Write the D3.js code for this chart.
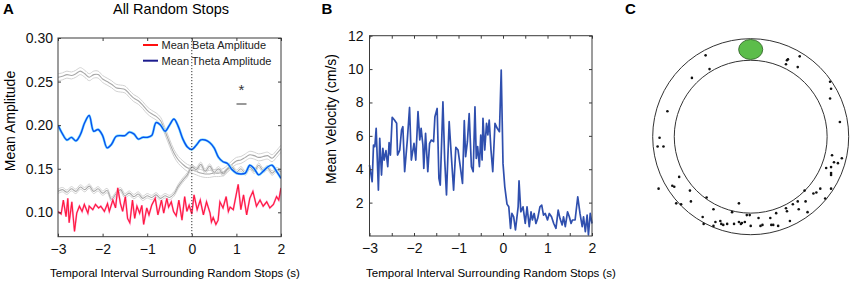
<!DOCTYPE html>
<html>
<head>
<meta charset="utf-8">
<script src="https://cdn.jsdelivr.net/npm/d3@7"></script>
<style>
  body { margin: 0; background: #fff; }
  svg { display: block; font-family: "Liberation Sans", Arial, Helvetica, sans-serif; }
</style>
</head>
<body>
<svg id="chart" width="851" height="282"></svg>
<script>
// ---- panel A: amplitude around random stops ----
const gridTime = [-3.0,-2.9,-2.8,-2.7,-2.6,-2.5,-2.4,-2.3,-2.2,-2.1,-2.0,-1.9,-1.8,-1.7,-1.6,-1.5,-1.4,-1.3,-1.2,-1.1,
  -1.0,-0.9,-0.8,-0.7,-0.6,-0.5,-0.4,-0.3,-0.2,-0.1,0.0,0.1,0.2,0.3,0.4,0.5,0.6,0.7,0.8,0.9,
  1.0,1.1,1.2,1.3,1.4,1.5,1.6,1.7,1.8,1.9,2.0];

const thetaAmp = [0.200,0.190,0.183,0.186,0.182,0.189,0.203,0.211,0.193,0.195,0.188,0.174,0.178,0.187,0.188,0.188,0.192,0.190,0.184,0.186,
  0.186,0.188,0.203,0.200,0.193,0.200,0.207,0.198,0.184,0.175,0.172,0.177,0.183,0.183,0.180,0.174,0.163,0.158,0.156,0.149,
  0.145,0.144,0.145,0.154,0.150,0.143,0.147,0.152,0.154,0.147,0.139];

// shuffled-control curves (grey)
const grayHigh = [0.255,0.256,0.258,0.257,0.259,0.262,0.259,0.255,0.258,0.258,0.253,0.250,0.247,0.243,0.242,0.241,0.236,0.231,0.228,0.223,
  0.217,0.213,0.210,0.205,0.193,0.180,0.168,0.160,0.155,0.151,0.149,0.147,0.145,0.144,0.144,0.145,0.145,0.146,0.150,0.155,
  0.159,0.160,0.163,0.166,0.165,0.163,0.164,0.165,0.162,0.167,0.173];
const grayLow = [0.124,0.126,0.123,0.127,0.124,0.129,0.126,0.130,0.124,0.127,0.122,0.125,0.115,0.121,0.126,0.119,0.122,0.118,0.121,0.116,
  0.119,0.117,0.120,0.116,0.119,0.117,0.121,0.130,0.137,0.143,0.152,0.149,0.155,0.147,0.153,0.146,0.150,0.144,0.149,0.152,
  0.146,0.150,0.145,0.152,0.147,0.154,0.148,0.151,0.145,0.149,0.146];
const grayHighSem = 0.004, grayLowSem = 0.0025;

const betaTime = [-3.00,-2.93,-2.88,-2.82,-2.78,-2.75,-2.69,-2.63,-2.58,-2.52,-2.46,-2.41,-2.33,-2.30,-2.22,-2.16,-2.09,-2.04,-1.96,-1.89,
  -1.85,-1.77,-1.71,-1.66,-1.60,-1.55,-1.49,-1.44,-1.39,-1.33,-1.28,-1.23,-1.17,-1.12,-1.08,-1.01,-0.96,-0.90,-0.82,-0.76,
  -0.68,-0.63,-0.56,-0.52,-0.46,-0.41,-0.35,-0.29,-0.22,-0.16,-0.11,-0.06,0.00,0.05,0.12,0.19,0.26,0.33,0.41,0.44,
  0.48,0.54,0.59,0.63,0.70,0.77,0.82,0.86,0.93,1.04,1.10,1.16,1.23,1.30,1.37,1.45,1.53,1.60,1.68,1.75,
  1.83,1.90,1.95,2.00];
const betaAmp = [0.101,0.098,0.114,0.095,0.116,0.088,0.112,0.078,0.099,0.107,0.101,0.109,0.099,0.107,0.103,0.109,0.105,0.107,0.101,0.110,
  0.101,0.114,0.105,0.128,0.110,0.101,0.118,0.093,0.088,0.114,0.093,0.107,0.099,0.108,0.086,0.105,0.097,0.108,0.116,0.097,
  0.114,0.099,0.116,0.106,0.112,0.101,0.096,0.114,0.091,0.118,0.101,0.108,0.098,0.120,0.103,0.114,0.097,0.112,0.099,0.089,
  0.094,0.086,0.091,0.112,0.105,0.118,0.101,0.106,0.103,0.132,0.103,0.120,0.097,0.116,0.124,0.107,0.114,0.107,0.112,0.105,
  0.109,0.118,0.114,0.128];

const ampTicks = [0.10, 0.15, 0.20, 0.25, 0.30];
const timeTicks = [-3, -2, -1, 0, 1, 2];
const legendLabels = ['Mean Beta Amplitude', 'Mean Theta Amplitude'];

// ---- panel B: running speed ----
const velTime = [-3.00,-2.94,-2.91,-2.88,-2.85,-2.80,-2.77,-2.73,-2.70,-2.67,-2.63,-2.59,-2.56,-2.53,-2.49,-2.44,-2.39,-2.37,-2.32,-2.28,
  -2.25,-2.21,-2.15,-2.10,-2.06,-2.00,-1.96,-1.91,-1.87,-1.84,-1.80,-1.78,-1.74,-1.69,-1.65,-1.61,-1.56,-1.53,-1.48,-1.44,
  -1.41,-1.35,-1.31,-1.27,-1.21,-1.16,-1.11,-1.06,-1.01,-0.96,-0.91,-0.87,-0.84,-0.80,-0.76,-0.71,-0.67,-0.63,-0.60,-0.57,
  -0.53,-0.50,-0.47,-0.45,-0.41,-0.37,-0.34,-0.31,-0.27,-0.23,-0.18,-0.13,-0.08,-0.04,0.00,0.04,0.09,0.13,0.17,0.20,
  0.24,0.28,0.34,0.36,0.40,0.45,0.50,0.54,0.59,0.63,0.66,0.70,0.74,0.78,0.83,0.87,0.91,0.95,1.00,1.04,
  1.09,1.14,1.19,1.24,1.28,1.33,1.36,1.40,1.45,1.49,1.53,1.56,1.62,1.68,1.73,1.78,1.81,1.85,1.89,1.92,
  1.96,2.00];
const velocity = [4.25,3.25,5.45,5.35,6.45,2.75,5.85,3.65,5.25,4.55,5.11,4.15,5.59,4.85,7.11,6.95,6.75,4.85,5.15,6.35,
  6.55,3.85,5.75,7.70,4.55,5.55,4.55,7.45,5.75,6.45,5.45,4.05,6.15,3.85,5.55,5.75,5.65,7.15,7.64,3.45,
  3.05,8.04,4.55,2.46,6.85,4.75,2.75,5.31,5.15,4.15,3.15,6.91,4.75,5.65,7.34,4.15,3.85,7.74,4.65,5.35,
  4.15,6.05,4.55,7.05,5.15,6.75,6.05,6.95,5.15,3.85,6.75,6.45,6.25,9.94,4.35,2.95,1.91,1.75,0.46,1.35,
  1.15,0.36,1.75,3.30,1.45,1.75,0.75,1.75,0.56,1.45,0.96,1.35,0.75,1.06,1.75,1.85,1.25,1.35,0.96,1.35,
  1.15,0.75,0.46,1.55,1.06,0.66,1.15,0.56,1.45,1.15,0.75,0.96,0.96,2.35,1.35,0.56,1.15,0.26,1.25,0.06,
  1.35,0.75];
const velTicks = [2, 4, 6, 8, 10, 12];
const velTimeTicks = [-3, -2.5, -2, -1.5, -1, -0.5, 0, 0.5, 1, 1.5, 2];

// ---- panel C: stop positions on the circular track (track units, outer radius = 100) ----
const trackOuter = 100, trackInner = 78;
const rewardSite = { x: 0, y: -89, rx: 12.3, ry: 10.2 };
const stopX = [-46,-42,-60,-85,-93,-95,-89,-94,-80,-78,-73,-76,-71,-62,-61,-45,-49,-48,-38,-38,-36,-31,-30,-28,-24,-19,-17,-12,-12,-10,
  -9,-6,-4,-1,0,8,10,12,20,21,23,26,28,36,37,40,43,49,48,55,56,58,64,67,71,76,77,82,82,82,
  83,82,85,89,93,91,81,82,81,50,48,37,38,36];
const stopY = [-83,-69,-60,-26,1,10,10,53,50,51,41,68,69,55,66,62,82,89,74,91,87,86,89,90,89,77,89,68,87,89,
  88,87,80,80,91,83,91,90,83,90,90,78,91,73,76,86,69,74,66,55,66,77,58,57,53,63,32,31,37,39,
  19,53,26,27,22,-15,-39,-49,-56,-82,-71,-78,-79,-74];

const svg = d3.select('#chart');
const frameColor = '#3a3a3a';

function panelLetter(x, label) {
  svg.append('text')
    .attr('x', x).attr('y', 14)
    .attr('font-size', 15).attr('font-weight', 'bold')
    .text(label);
}

// draws a MATLAB style box with inward ticks
function drawFrame(g, x, y, xTicks, yTicks, xFmt, yFmt, yPad) {
  const [x0, x1] = x.range(), [y0, y1] = y.range();
  const style = sel => {
    sel.select('.domain').remove();
    sel.selectAll('line').attr('stroke', frameColor);
    sel.selectAll('text').attr('font-size', 14).attr('fill', '#111').attr('font-family', null);
  };
  g.append('g').attr('transform', `translate(0,${y0})`)
    .call(d3.axisBottom(x).tickValues(xTicks).tickSize(-3).tickPadding(7).tickFormat(xFmt)).call(style);
  g.append('g').attr('transform', `translate(0,${y1})`)
    .call(d3.axisTop(x).tickValues(xTicks).tickSize(-3).tickFormat('')).call(style);
  g.append('g').attr('transform', `translate(${x0},0)`)
    .call(d3.axisLeft(y).tickValues(yTicks).tickSize(-3).tickPadding(yPad).tickFormat(yFmt)).call(style);
  g.append('g').attr('transform', `translate(${x1},0)`)
    .call(d3.axisRight(y).tickValues(yTicks).tickSize(-3).tickFormat('')).call(style);
  g.append('rect')
    .attr('x', x0).attr('y', y1)
    .attr('width', x1 - x0).attr('height', y0 - y1)
    .attr('fill', 'none').attr('stroke', frameColor).attr('stroke-width', 1);
}

// ================= A =================
panelLetter(3, 'A');
svg.append('text')
  .attr('x', 171).attr('y', 14)
  .attr('text-anchor', 'middle').attr('font-size', 14.5)
  .text('All Random Stops');

const xA = d3.scaleLinear([-3, 2], [58, 281]);
const yA = d3.scaleLinear([0.072, 0.30], [236.7, 38]);
const gA = svg.append('g');

gA.append('clipPath').attr('id', 'clipA')
  .append('rect').attr('x', 58).attr('y', 38).attr('width', 223).attr('height', 198.7);
const plotA = gA.append('g').attr('clip-path', 'url(#clipA)');

// grey control curves: mean and +/- sem
const grayCurves = [
  { values: grayHigh, sem: grayHighSem },
  { values: grayLow, sem: grayLowSem }
];
grayCurves.forEach(c => {
  [-1, 1].forEach(s => {
    plotA.append('path')
      .datum(c.values.map((v, i) => [gridTime[i], v + s * c.sem]))
      .attr('fill', 'none').attr('stroke', '#d2d2d2').attr('stroke-width', 1)
      .attr('d', d3.line().x(d => xA(d[0])).y(d => yA(d[1])).curve(d3.curveCatmullRom));
  });
  plotA.append('path')
    .datum(c.values.map((v, i) => [gridTime[i], v]))
    .attr('fill', 'none').attr('stroke', '#a8a8a8').attr('stroke-width', 1.1)
    .attr('d', d3.line().x(d => xA(d[0])).y(d => yA(d[1])).curve(d3.curveCatmullRom));
});

// theta (blue, smooth)
const thetaLine = d3.line().x((d, i) => xA(gridTime[i])).y(d => yA(d)).curve(d3.curveCatmullRom);
plotA.append('path').datum(thetaAmp)
  .attr('fill', 'none').attr('stroke', '#7fe3ff').attr('stroke-width', 2.6)
  .attr('d', thetaLine);
plotA.append('path').datum(thetaAmp)
  .attr('fill', 'none').attr('stroke', '#0a4ff0').attr('stroke-width', 1.4)
  .attr('d', thetaLine);

// beta (red, jagged)
const betaLine = d3.line().x((d, i) => xA(betaTime[i])).y(d => yA(d));
plotA.append('path').datum(betaAmp)
  .attr('fill', 'none').attr('stroke', '#ff9ad0').attr('stroke-width', 1.9)
  .attr('d', betaLine);
plotA.append('path').datum(betaAmp)
  .attr('fill', 'none').attr('stroke', '#ff1a3a').attr('stroke-width', 1.1)
  .attr('d', betaLine);

// stop onset marker
gA.append('line')
  .attr('x1', xA(0)).attr('x2', xA(0))
  .attr('y1', yA.range()[1]).attr('y2', yA.range()[0])
  .attr('stroke', '#333').attr('stroke-width', 1)
  .attr('stroke-dasharray', '1.2,1.8');

drawFrame(gA, xA, yA, timeTicks, ampTicks, d3.format('d'), d3.format('.2f'), 5);

// significance mark
gA.append('text')
  .attr('x', 241.5).attr('y', 95)
  .attr('text-anchor', 'middle').attr('font-size', 15).attr('fill', '#333')
  .text('*');
gA.append('line')
  .attr('x1', 236.5).attr('x2', 246.5).attr('y1', 104).attr('y2', 104)
  .attr('stroke', '#999').attr('stroke-width', 2);

// legend
const legend = gA.append('g').selectAll('g')
  .data(legendLabels)
  .join('g')
    .attr('transform', (d, i) => `translate(143,${45 + i * 15.7})`);
legend.append('line')
  .attr('x1', 0).attr('x2', 15)
  .attr('stroke', (d, i) => i === 0 ? '#ff1010' : '#1c1c8e')
  .attr('stroke-width', 2);
legend.append('text')
  .attr('x', 18.5).attr('y', 4)
  .attr('font-size', 11).attr('fill', '#222')
  .text(d => d);

svg.append('text')
  .attr('transform', 'translate(15,121) rotate(-90)')
  .attr('text-anchor', 'middle').attr('font-size', 14)
  .text('Mean Amplitude');
svg.append('text')
  .attr('x', 175).attr('y', 277)
  .attr('text-anchor', 'middle').attr('font-size', 11.5)
  .text('Temporal Interval Surrounding Random Stops (s)');

// ================= B =================
panelLetter(321.5, 'B');
const xB = d3.scaleLinear([-3, 2], [369.5, 592]);
const yB = d3.scaleLinear([0, 12], [236, 35.7]);
const gB = svg.append('g');

gB.append('path').datum(velocity)
  .attr('fill', 'none').attr('stroke', '#2f4fae').attr('stroke-width', 1.7)
  .attr('stroke-linejoin', 'round')
  .attr('d', d3.line().x((d, i) => xB(velTime[i])).y(d => yB(d)));

const fmtB = d3.format('d');
drawFrame(gB, xB, yB, velTimeTicks, velTicks,
  d => Number.isInteger(d) ? fmtB(d) : '', fmtB, 6);

svg.append('text')
  .attr('transform', 'translate(335.5,119) rotate(-90)')
  .attr('text-anchor', 'middle').attr('font-size', 14)
  .text('Mean Velocity (cm/s)');
svg.append('text')
  .attr('x', 491).attr('y', 277)
  .attr('text-anchor', 'middle').attr('font-size', 11.5)
  .text('Temporal Interval Surrounding Random Stops (s)');

// ================= C =================
panelLetter(625, 'C');
const cx = d3.scaleLinear([-100, 100], [652.7, 848.7]);
const cy = d3.scaleLinear([-100, 100], [38.7, 234.7]);
const gC = svg.append('g');

[trackOuter, trackInner].forEach(r => {
  gC.append('ellipse')
    .attr('cx', cx(0)).attr('cy', cy(0))
    .attr('rx', cx(r) - cx(0)).attr('ry', cy(r) - cy(0))
    .attr('fill', 'none').attr('stroke', '#333').attr('stroke-width', 1);
});

gC.append('ellipse')
  .attr('cx', cx(rewardSite.x)).attr('cy', cy(rewardSite.y))
  .attr('rx', cx(rewardSite.rx) - cx(0)).attr('ry', cy(rewardSite.ry) - cy(0))
  .attr('fill', '#5cbd4a').attr('stroke', '#2d5a25').attr('stroke-width', 0.8);

gC.append('g').selectAll('circle')
  .data(stopX)
  .join('circle')
    .attr('cx', d => cx(d))
    .attr('cy', (d, i) => cy(stopY[i]))
    .attr('r', 1.3)
    .attr('fill', '#111');
</script>
</body>
</html>
